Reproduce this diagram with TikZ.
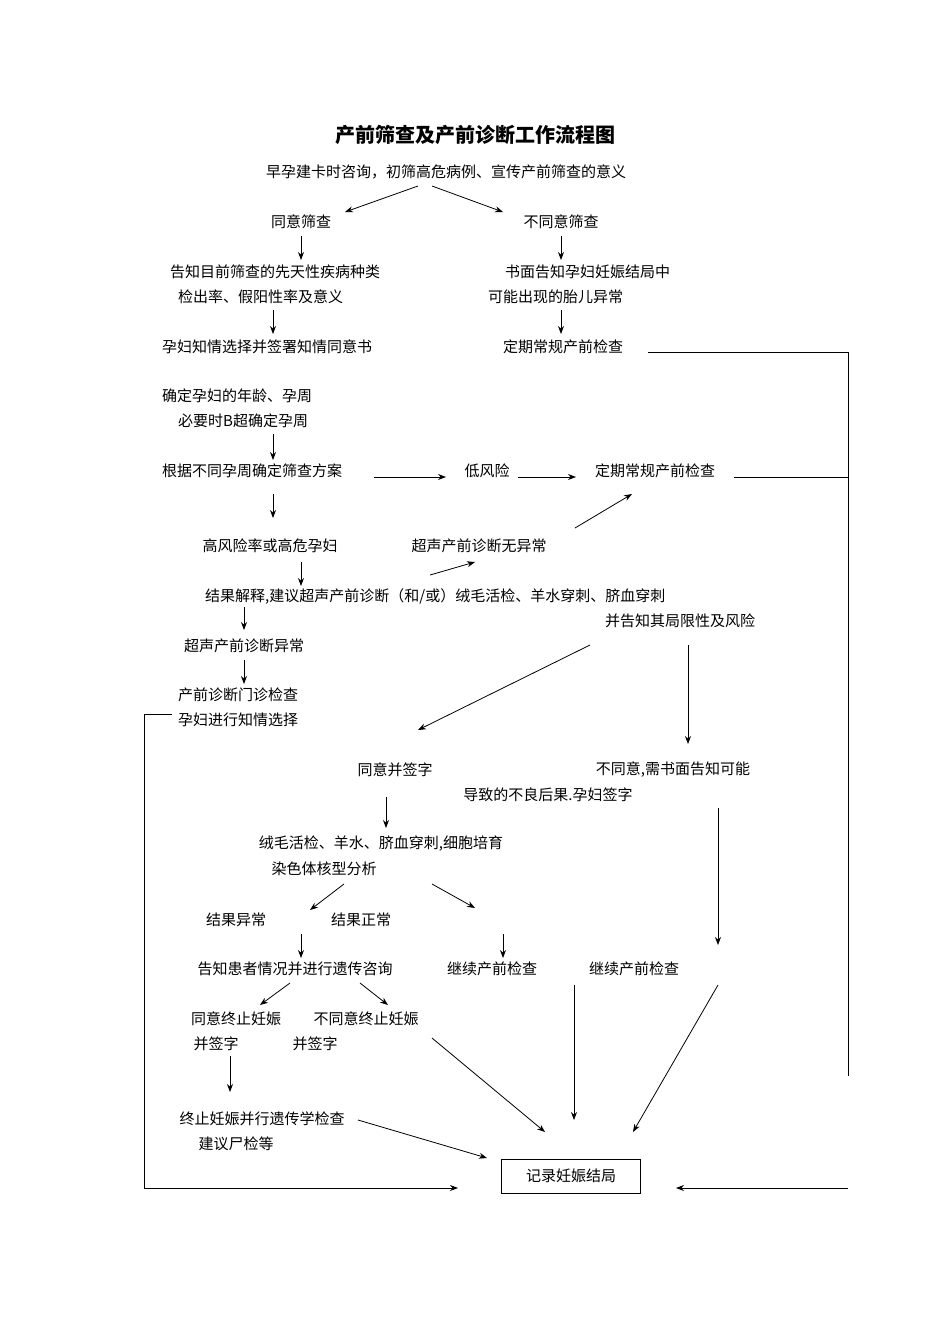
\documentclass[tikz,border=0pt]{standalone}
\usepackage{fontspec}
\setmainfont{Noto Sans CJK SC}
\usetikzlibrary{arrows.meta}
\begin{document}
\begin{tikzpicture}[x=1pt,y=-1pt,
  t/.style={inner sep=0pt,font=\fontsize{15}{17}\selectfont},
  tl/.style={t,anchor=west},
  ar/.style={-{Stealth[length=8pt,width=6pt]},line width=0.8pt},
  ln/.style={line width=0.8pt}]
\useasboundingbox[fill=white] (0,0) rectangle (950,1344);
\node[t,font=\fontsize{20}{22}\selectfont\bfseries] (title) at (475,135) {产前筛查及产前诊断工作流程图};
\node[t] (n1) at (446,172) {早孕建卡时咨询，初筛高危病例、宣传产前筛查的意义};
\node[t] (ty) at (301,222) {同意筛查};
\node[t] (bty) at (561,222) {不同意筛查};
\node[tl] (gz1) at (170,272) {告知目前筛查的先天性疾病种类};
\node[tl] (gz2) at (178,297) {检出率、假阳性率及意义};
\node[tl] (sm1) at (505,272) {书面告知孕妇妊娠结局中};
\node[tl] (sm2) at (488,297) {可能出现的胎儿异常};
\node[tl] (zq) at (162,347) {孕妇知情选择并签署知情同意书};
\node[t] (dq1) at (563,347) {定期常规产前检查};
\node[tl] (qd1) at (162,396) {确定孕妇的年龄、孕周};
\node[tl] (qd2) at (178,421) {必要时B超确定孕周};
\node[tl] (gj) at (162,471) {根据不同孕周确定筛查方案};
\node[t] (dfx) at (487,471) {低风险};
\node[t] (dq2) at (655,471) {定期常规产前检查};
\node[t] (gfx) at (270,546) {高风险率或高危孕妇};
\node[t] (wyc) at (479,546) {超声产前诊断无异常};
\node[tl] (jg) at (205,596) {结果解释,建议超声产前诊断（和/或）绒毛活检、羊水穿刺、脐血穿刺};
\node[t] (jg2) at (680,621) {并告知其局限性及风险};
\node[t] (yc) at (244,646) {超声产前诊断异常};
\node[tl] (mz1) at (178,695) {产前诊断门诊检查};
\node[tl] (mz2) at (178,720) {孕妇进行知情选择};
\node[t] (tyqz) at (395,770) {同意并签字};
\node[t] (bty2) at (673,770) {不同意,需书面告知可能};
\node[t] (bty3) at (548,795) {导致的不良后果.孕妇签字};
\node[t] (rm1) at (381,844) {绒毛活检、羊水、脐血穿刺,细胞培育};
\node[t] (rm2) at (324,869) {染色体核型分析};
\node[t] (jgyc) at (236,920) {结果异常};
\node[t] (jgzc) at (361,920) {结果正常};
\node[t] (gzhz) at (295,969) {告知患者情况并进行遗传咨询};
\node[t] (jx1) at (492,969) {继续产前检查};
\node[t] (jx2) at (634,969) {继续产前检查};
\node[t] (tyzz) at (236,1019) {同意终止妊娠};
\node[t] (btyzz) at (366,1019) {不同意终止妊娠};
\node[t] (bqz1) at (216,1044) {并签字};
\node[t] (bqz2) at (315,1044) {并签字};
\node[t] (zz1) at (262,1119) {终止妊娠并行遗传学检查};
\node[t] (zz2) at (236,1144) {建议尸检等};
\node[t,draw,line width=0.8pt,minimum width=139pt,minimum height=34pt] (jl) at (571,1176) {记录妊娠结局};
% arrows
\draw[ar] (418,186) -- (345,212);
\draw[ar] (432,186) -- (503,212);
\draw[ar] (301,236) -- (301,260);
\draw[ar] (561,236) -- (561,260);
\draw[ar] (273,310) -- (273,334);
\draw[ar] (561,310) -- (561,334);
\draw[ln] (648,352) -- (848,352) -- (848,1076);
\draw[ar] (273,434) -- (273,460);
\draw[ar] (374,477) -- (446,477);
\draw[ar] (518,477) -- (576,477);
\draw[ln] (734,477) -- (848,477);
\draw[ar] (273,494) -- (273,518);
\draw[ar] (575,528) -- (632,494);
\draw[ar] (301,562) -- (301,586);
\draw[ar] (430,575) -- (475,562);
\draw[ar] (244,607) -- (244,630);
\draw[ar] (244,660) -- (244,684);
\draw[ar] (172,714) -- (144,714) -- (144,1188) -- (458,1188);
\draw[ar] (590,645) -- (418,730);
\draw[ar] (688,645) -- (688,744);
\draw[ar] (386,797) -- (386,828);
\draw[ar] (344,884) -- (310,910);
\draw[ar] (432,884) -- (475,908);
\draw[ar] (718,808) -- (718,945);
\draw[ar] (301,934) -- (301,958);
\draw[ar] (503,934) -- (503,958);
\draw[ar] (290,983) -- (260,1005);
\draw[ar] (360,983) -- (388,1005);
\draw[ar] (230,1056) -- (230,1092);
\draw[ar] (432,1038) -- (545,1132);
\draw[ar] (574,985) -- (574,1120);
\draw[ar] (718,985) -- (633,1132);
\draw[ar] (358,1120) -- (487,1158);
\draw[ar] (848,1188) -- (676,1188);
\end{tikzpicture}
\end{document}
